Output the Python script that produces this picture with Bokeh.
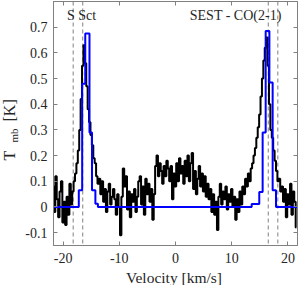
from bokeh.plotting import figure
from bokeh.models import Span, LinearAxis, FixedTicker, Range1d, Label
from bokeh.core.properties import value
from bokeh.embed import file_html
from bokeh.resources import INLINE
import math

# ---- data ----
v_start = -21.75
dv = 0.25
tmb = [
    0.08, -0.02, 0.12, 0.03, -0.04, 0.06, 0.10, -0.06, 0.02, -0.07, 0.04, -0.03, 0.09, 0.01, 0.06,
    0.10, 0.13, 0.17, 0.22, 0.30, 0.42, 0.55, 0.63,
    0.56, 0.47, 0.38, 0.33, 0.28, 0.24, 0.19, 0.17, 0.12, 0.09,
    0.11, 0.05, 0.10, 0.02, 0.07, -0.02, 0.06, 0.09, 0.01, 0.04, 0.07,
    0.03, -0.03, 0.05, 0.00, -0.11, 0.04, 0.15, 0.08, 0.12, -0.01, 0.06, -0.04, 0.05, 0.02,
    0.07, -0.02, 0.04, 0.10, 0.12, 0.01, 0.08, -0.03, 0.11, 0.05, 0.09, 0.02, 0.07, -0.05,
    0.05, 0.16, 0.20, 0.12, 0.17, 0.14, 0.09, 0.16, 0.12, 0.18, 0.15, 0.10, 0.16, 0.03,
    0.13, 0.08, 0.17, 0.10, 0.19, 0.13, 0.16, 0.09, 0.18, 0.12, 0.20, 0.10, 0.17, 0.21,
    0.07, 0.14, 0.05, 0.11, 0.16, 0.08, 0.13, 0.06, 0.12, 0.04, 0.09, 0.03,
    0.07, -0.02, 0.05, -0.03, 0.02, -0.09, 0.04, 0.09, 0.01, 0.06, 0.03, 0.08, -0.01, 0.05, 0.02, 0.07, 0.00,
    0.04, -0.05, 0.03, -0.02, 0.06, 0.01, 0.08, 0.05, 0.11, 0.08, 0.13,
    0.10, 0.15, 0.17, 0.20, 0.23, 0.27, 0.31, 0.36, 0.43, 0.50, 0.57, 0.62, 0.66,
    0.55, 0.40, 0.30, 0.27, 0.22, 0.18, 0.14, 0.10, 0.11, 0.06, 0.08,
    0.02, 0.07, -0.04, 0.05, 0.01, 0.09, -0.03, 0.06, 0.02, -0.08,
]
velocity = [round(v_start + dv * i, 2) for i in range(len(tmb))]

model_v = [-21.7, -17.2, -16.6, -16.05, -15.3, -14.85, -14.25, -13.8,
           13.55, 14.9, 15.5, 16.04, 16.7, 17.28, 17.88, 21.7]
model_t = [0.0, 0.065, 0.48, 0.675, 0.29, 0.065, 0.013, 0.0,
           0.012, 0.058, 0.29, 0.685, 0.485, 0.065, 0.0, 0.0]

dashed_v = [-18.2, -16.5, 16.5, 18.2]

x_ticks = [-20, -10, 0, 10, 20]
x_tick_labels = ["-20", "-10", "0", "10", "20"]
y_ticks = [-0.1, 0.0, 0.1, 0.2, 0.3, 0.4, 0.5, 0.6, 0.7]
y_tick_labels = ["-0.1", "0", "0.1", "0.2", "0.3", "0.4", "0.5", "0.6", "0.7"]

title_left = "S Sct"
title_right = "SEST - CO(2-1)"
x_label = "Velocity [km/s]"
y_label_main = "T"
y_label_sub = "mb"
y_label_unit = "[K]"

FONT = "Liberation Serif"
AX = "#808080"
TXT = "#262626"

X0, X1 = -21.7, 21.7
Y0, Y1 = -0.15, 0.8

p = figure(width=300, height=285, output_backend="svg", toolbar_location=None,
           x_range=Range1d(X0, X1), y_range=Range1d(Y0, Y1),
           min_border_left=53, min_border_right=3, min_border_top=1, min_border_bottom=40)
p.xgrid.visible = False
p.ygrid.visible = False
p.outline_line_color = AX
p.background_fill_color = "white"
p.border_fill_color = "white"

for s in dashed_v:
    p.add_layout(Span(location=s, dimension="height", line_color="#808080",
                      line_dash="4 3", line_width=1, level="underlay"))

p.step(velocity, tmb, mode="center", line_color="black", line_width=2)
p.step(model_v, model_t, mode="after", line_color="#0000ff", line_width=2)


def style(ax, ticks, labels, show):
    ax.ticker = FixedTicker(ticks=ticks)
    ax.major_tick_in = 4
    ax.major_tick_out = 0
    ax.minor_tick_line_color = None
    ax.major_tick_line_color = AX
    ax.axis_line_color = AX
    if show:
        ax.major_label_overrides = {t: l for t, l in zip(ticks, labels)}
        ax.major_label_text_font = FONT
        ax.major_label_text_font_size = "14px"
        ax.major_label_text_color = TXT
    else:
        ax.major_label_text_color = None
        ax.major_label_text_font_size = "1px"
        ax.major_label_standoff = 0


style(p.xaxis[0], x_ticks, x_tick_labels, True)
p.xaxis[0].major_label_standoff = 7
style(p.yaxis[0], y_ticks, y_tick_labels, True)
p.yaxis[0].major_label_standoff = 6

top = LinearAxis()
style(top, x_ticks, x_tick_labels, False)
p.add_layout(top, "above")
right = LinearAxis()
style(right, y_ticks, y_tick_labels, False)
p.add_layout(right, "right")

p.add_layout(Label(x=-16.7, y=0.747, text=title_left, text_font=FONT, text_font_size="14px",
                   text_color=TXT, text_align="center", text_baseline="middle"))
p.add_layout(Label(x=10.7, y=0.747, text=title_right, text_font=FONT, text_font_size="14px",
                   text_color=TXT, text_align="center", text_baseline="middle"))

# axis labels drawn as unclipped overlay text, placed just outside the frame
px_x = (X1 - X0) / 244.0
px_y = (Y1 - Y0) / 244.0
xl = p.text(x=[X0 + 120.5 * px_x], y=[Y0 - 31.5 * px_y], text=[x_label],
            text_font=value(FONT), text_font_size="15.5px", text_color=TXT,
            text_align="center", text_baseline="alphabetic")
xl.level = "overlay"
t1 = p.text(x=[X0 - 44 * px_x], y=[Y0 + 85 * px_y], text=[y_label_main], angle=math.pi / 2,
            text_font=value(FONT), text_font_size="16px", text_color=TXT,
            text_align="left", text_baseline="alphabetic")
t1.level = "overlay"
t2 = p.text(x=[X0 - 40 * px_x], y=[Y0 + 103 * px_y], text=[y_label_sub], angle=math.pi / 2,
            text_font=value(FONT), text_font_size="11px", text_color=TXT,
            text_align="left", text_baseline="alphabetic")
t2.level = "overlay"
t3 = p.text(x=[X0 - 44 * px_x], y=[Y0 + 124 * px_y], text=[y_label_unit], angle=math.pi / 2,
            text_font=value(FONT), text_font_size="16px", text_color=TXT,
            text_align="left", text_baseline="alphabetic")
t3.level = "overlay"

open("out.html", "w").write(file_html(p, INLINE))
